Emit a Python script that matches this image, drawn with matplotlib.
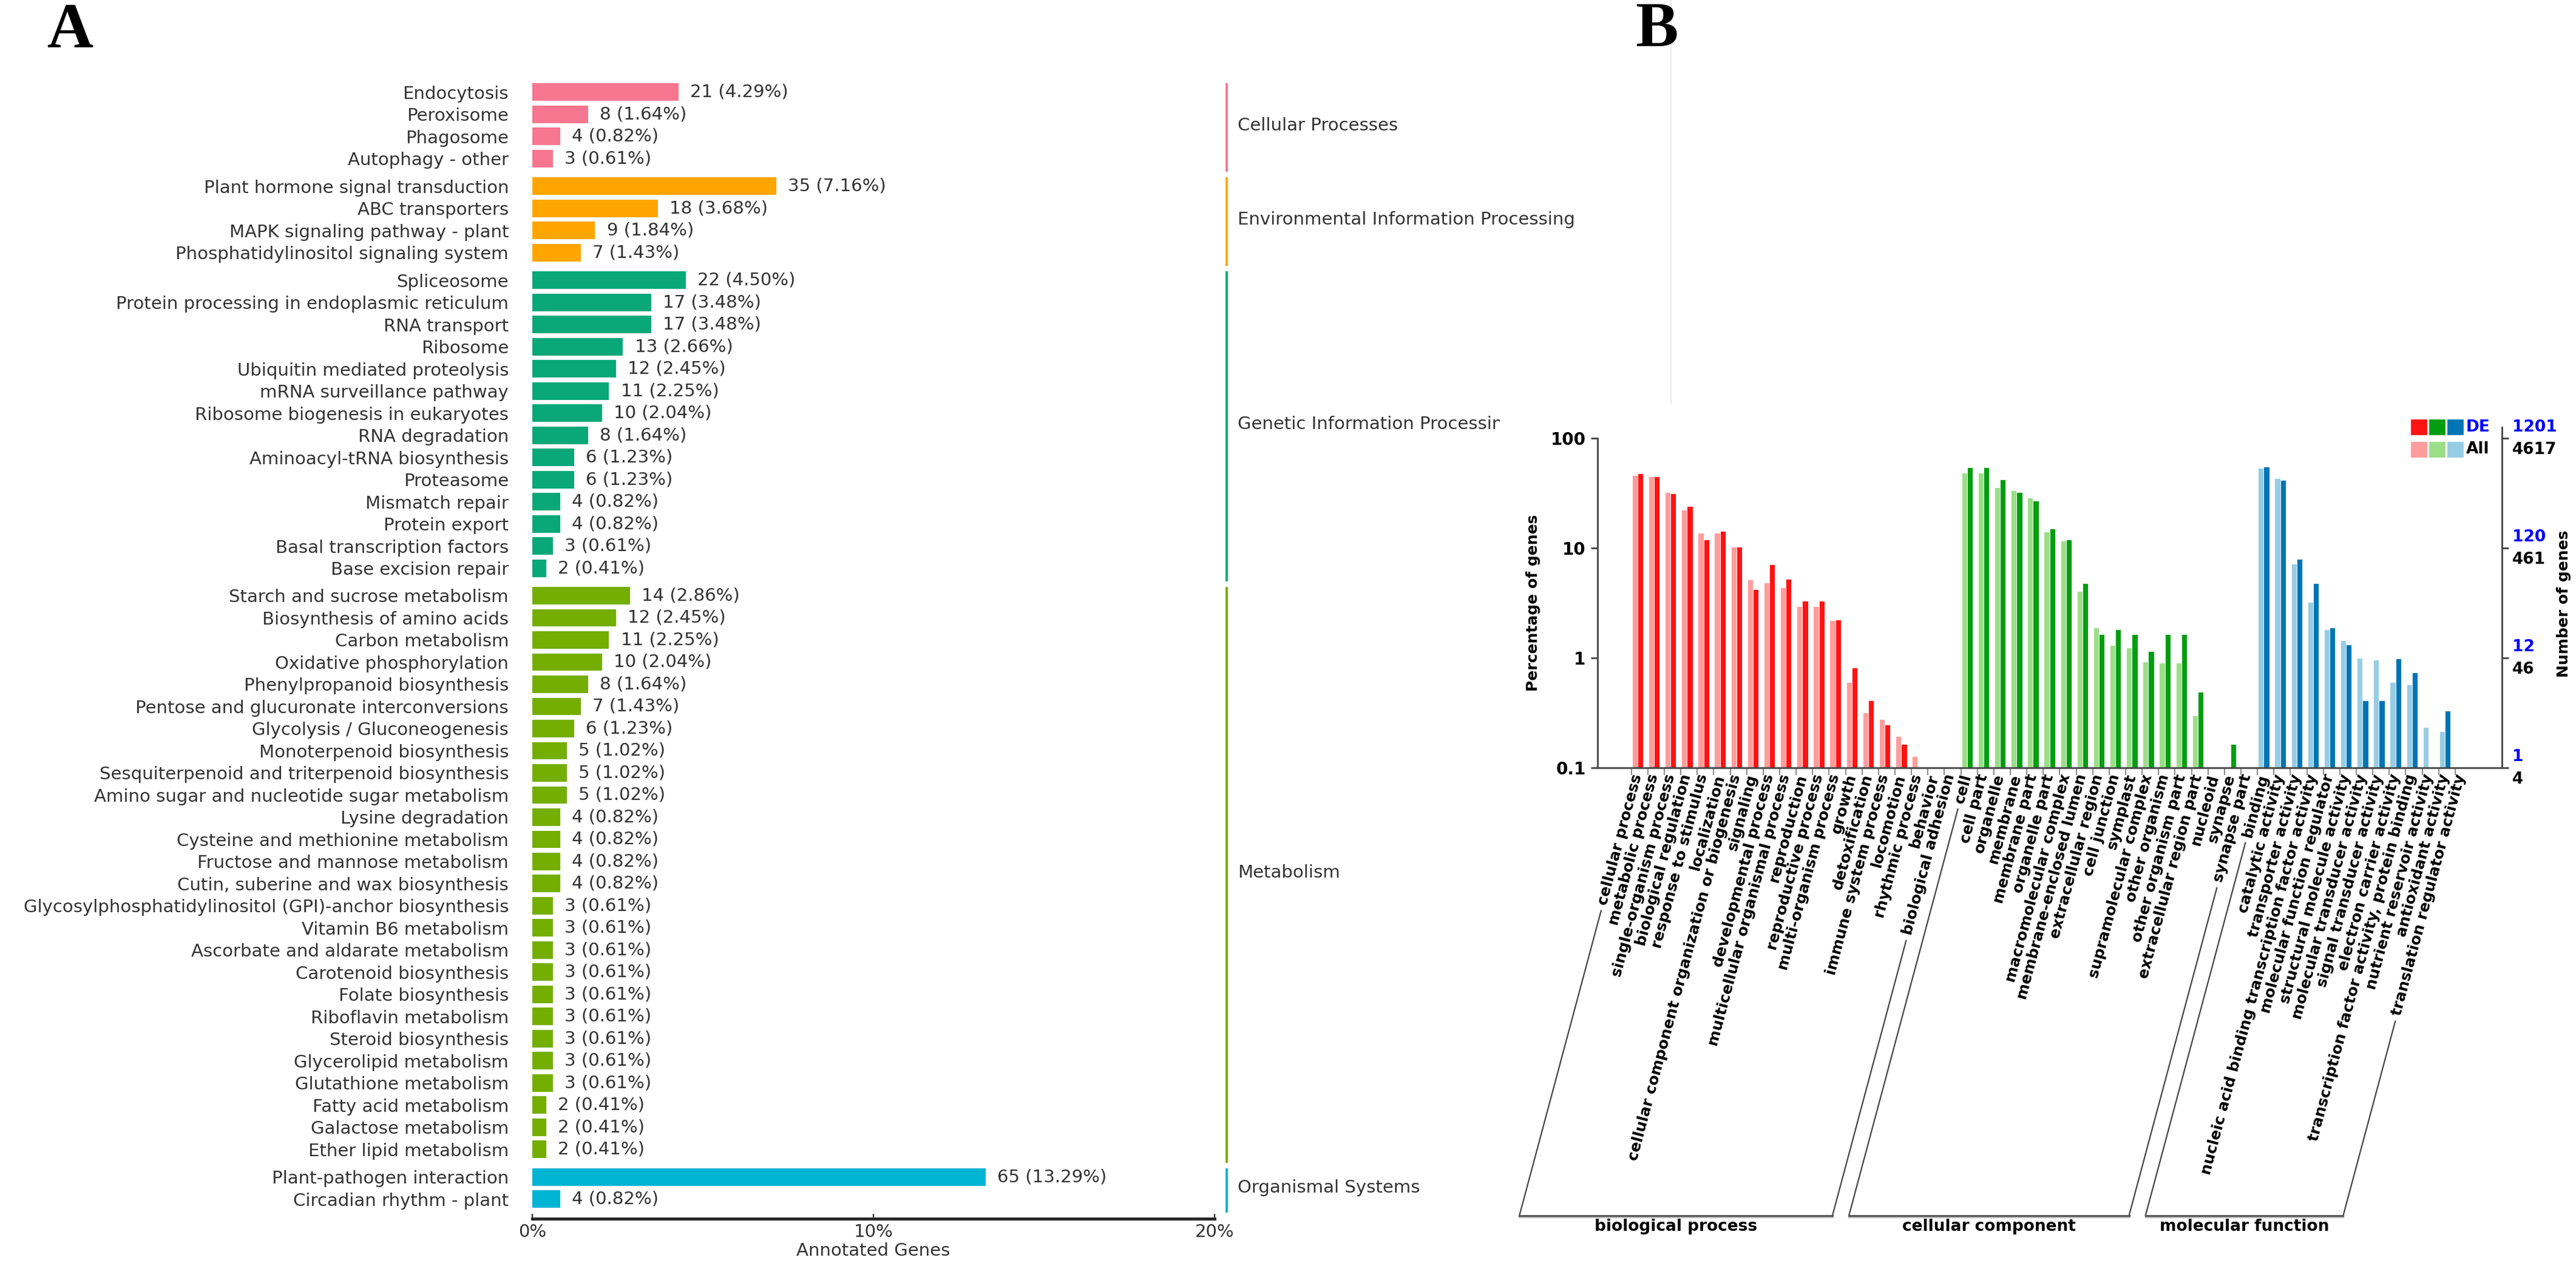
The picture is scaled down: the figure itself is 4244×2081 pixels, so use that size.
import numpy as np
import matplotlib
matplotlib.use("Agg")
import matplotlib.pyplot as plt
from matplotlib.patches import Rectangle
from matplotlib.lines import Line2D
from matplotlib.transforms import blended_transform_factory
from matplotlib.ticker import NullLocator

# ---------------- panel A data (KEGG) ----------------
kegg_group_names = ["Cellular Processes", "Environmental Information Processing",
                    "Genetic Information Processing", "Metabolism", "Organismal Systems"]
kegg_group_colors = ["#F7768F", "#FFA500", "#0AA878", "#74AE00", "#00B4D4"]

cellular_paths = ["Endocytosis", "Peroxisome", "Phagosome", "Autophagy - other"]
cellular_n = [21, 8, 4, 3]
cellular_pct = [4.29, 1.64, 0.82, 0.61]

environ_paths = ["Plant hormone signal transduction", "ABC transporters",
                 "MAPK signaling pathway - plant", "Phosphatidylinositol signaling system"]
environ_n = [35, 18, 9, 7]
environ_pct = [7.16, 3.68, 1.84, 1.43]

genetic_paths = ["Spliceosome", "Protein processing in endoplasmic reticulum", "RNA transport",
                 "Ribosome", "Ubiquitin mediated proteolysis", "mRNA surveillance pathway",
                 "Ribosome biogenesis in eukaryotes", "RNA degradation", "Aminoacyl-tRNA biosynthesis",
                 "Proteasome", "Mismatch repair", "Protein export", "Basal transcription factors",
                 "Base excision repair"]
genetic_n = [22, 17, 17, 13, 12, 11, 10, 8, 6, 6, 4, 4, 3, 2]
genetic_pct = [4.50, 3.48, 3.48, 2.66, 2.45, 2.25, 2.04, 1.64, 1.23, 1.23, 0.82, 0.82, 0.61, 0.41]

metab_paths = ["Starch and sucrose metabolism", "Biosynthesis of amino acids", "Carbon metabolism",
               "Oxidative phosphorylation", "Phenylpropanoid biosynthesis",
               "Pentose and glucuronate interconversions", "Glycolysis / Gluconeogenesis",
               "Monoterpenoid biosynthesis", "Sesquiterpenoid and triterpenoid biosynthesis",
               "Amino sugar and nucleotide sugar metabolism", "Lysine degradation",
               "Cysteine and methionine metabolism", "Fructose and mannose metabolism",
               "Cutin, suberine and wax biosynthesis",
               "Glycosylphosphatidylinositol (GPI)-anchor biosynthesis", "Vitamin B6 metabolism",
               "Ascorbate and aldarate metabolism", "Carotenoid biosynthesis", "Folate biosynthesis",
               "Riboflavin metabolism", "Steroid biosynthesis", "Glycerolipid metabolism",
               "Glutathione metabolism", "Fatty acid metabolism", "Galactose metabolism",
               "Ether lipid metabolism"]
metab_n = [14, 12, 11, 10, 8, 7, 6, 5, 5, 5, 4, 4, 4, 4, 3, 3, 3, 3, 3, 3, 3, 3, 3, 2, 2, 2]
metab_pct = [2.86, 2.45, 2.25, 2.04, 1.64, 1.43, 1.23, 1.02, 1.02, 1.02, 0.82, 0.82, 0.82, 0.82,
             0.61, 0.61, 0.61, 0.61, 0.61, 0.61, 0.61, 0.61, 0.61, 0.41, 0.41, 0.41]

organ_paths = ["Plant-pathogen interaction", "Circadian rhythm - plant"]
organ_n = [65, 4]
organ_pct = [13.29, 0.82]

# ---------------- panel B data (GO, % of genes) ----------------
bp_terms = ["cellular process", "metabolic process", "single-organism process",
            "biological regulation", "response to stimulus", "localization",
            "cellular component organization or biogenesis", "signaling",
            "developmental process", "multicellular organismal process", "reproduction",
            "reproductive process", "multi-organism process", "growth", "detoxification",
            "immune system process", "locomotion", "rhythmic process", "behavior",
            "biological adhesion"]
bp_all = [45.8, 45.1, 32.2, 22.2, 13.8, 13.8, 10.2, 5.14, 4.82, 4.39, 2.95, 2.95, 2.21,
          0.60, 0.32, 0.278, 0.193, 0.128, 0, 0]
bp_de = [47.8, 44.6, 31.5, 24.2, 11.9, 14.2, 10.2, 4.2, 7.12, 5.22, 3.31, 3.31, 2.23,
         0.82, 0.41, 0.248, 0.165, 0, 0, 0]

cc_terms = ["cell", "cell part", "organelle", "membrane", "membrane part", "organelle part",
            "macromolecular complex", "membrane-enclosed lumen", "extracellular region",
            "cell junction", "symplast", "supramolecular complex", "other organism",
            "other organism part", "extracellular region part", "nucleoid", "synapse",
            "synapse part"]
cc_all = [48.3, 48.3, 35.6, 33.6, 28.8, 14.1, 11.6, 4.05, 1.88, 1.30, 1.24, 0.925, 0.90,
          0.90, 0.298, 0, 0, 0]
cc_de = [54.2, 54.2, 42.1, 32.4, 27.0, 15.1, 12.0, 4.77, 1.65, 1.81, 1.65, 1.15, 1.65,
         1.65, 0.49, 0, 0.164, 0]

mf_terms = ["binding", "catalytic activity", "transporter activity",
            "nucleic acid binding transcription factor activity", "molecular function regulator",
            "structural molecule activity", "molecular transducer activity",
            "signal transducer activity", "electron carrier activity",
            "transcription factor activity, protein binding", "nutrient reservoir activity",
            "antioxidant activity", "translation regulator activity"]
mf_all = [53.4, 43.2, 7.16, 3.23, 1.81, 1.45, 1.00, 0.96, 0.60, 0.575, 0.235, 0.214, 0]
mf_de = [55.1, 41.7, 7.96, 4.80, 1.88, 1.32, 0.41, 0.41, 0.99, 0.738, 0, 0.331, 0]

go_group_names = ["biological process", "cellular component", "molecular function"]
go_dark = ["#FF1212", "#009E10", "#0075B5"]
go_light = ["#FF9C9C", "#9BDE88", "#97CDE4"]

de_ticks = ["1201", "120", "12", "1"]
all_ticks = ["4617", "461", "46", "4"]

# ---------------- figure ----------------
W, H, DPI = 4244, 2081, 200
fig = plt.figure(figsize=(W / DPI, H / DPI), dpi=DPI)
plt.rcParams['font.family'] = ['DejaVu Sans']


def fx(px):
    return px / W


def fy(py):
    return 1 - py / H


txt_c = "#333333"

# ======== panel A ========
axA = fig.add_axes([fx(877), fy(2008), fx(2001) - fx(877), fy(130) - fy(2008)])
groups = [(cellular_paths, cellular_n, cellular_pct), (environ_paths, environ_n, environ_pct),
          (genetic_paths, genetic_n, genetic_pct), (metab_paths, metab_n, metab_pct),
          (organ_paths, organ_n, organ_pct)]

all_y, all_lab = [], []
y = 0.0
# the panel-B picture covers the right end of the lower group names
clip_rect = Rectangle((0, 0), fx(2471), 1, transform=fig.transFigure)
for gi, (names, ns, pcts) in enumerate(groups):
    ys = []
    for name, n, p in zip(names, ns, pcts):
        ys.append(y)
        axA.barh(y, p, height=0.79, color=kegg_group_colors[gi])
        axA.text(p + 0.34, y, f"{n} ({p:.2f}%)", va="center", ha="left",
                 fontsize=10.5, color=txt_c)
        all_y.append(y)
        all_lab.append(name)
        y += 1
    axA.plot([20.36, 20.36], [ys[0] - 0.4, ys[-1] + 0.6], color=kegg_group_colors[gi],
             lw=1.4, clip_on=False, solid_capstyle="butt")
    ymid = (ys[0] + ys[-1]) / 2
    t = axA.text(20.68, ymid, kegg_group_names[gi], va="center", ha="left",
                 fontsize=10.5, color=txt_c, clip_on=False)
    if ymid > 12:
        t.set_clip_on(True)
        t.set_clip_path(clip_rect)
    y += 0.244

axA.set_xlim(0, 20)
axA.set_ylim(50.86, -0.6)
axA.set_yticks(all_y)
axA.set_yticklabels(all_lab, fontsize=10.5, color=txt_c)
axA.tick_params(axis="y", length=0, pad=14)
axA.set_xticks([0, 10, 20])
axA.set_xticklabels(["0%", "10%", "20%"], fontsize=10.5, color=txt_c)
axA.tick_params(axis="x", direction="in", length=3, color="#333333", pad=3)
axA.set_xlabel("Annotated Genes", fontsize=10.5, color=txt_c, labelpad=1)
for s in ["top", "right", "left"]:
    axA.spines[s].set_visible(False)
axA.spines["bottom"].set_color("#2a2a2a")
axA.spines["bottom"].set_linewidth(1.8)

# ======== panel B ========
axB = fig.add_axes([fx(2632), fy(1265), fx(4122) - fx(2632), fy(722) - fy(1265)])
axB.set_yscale("log")
terms = bp_terms + cc_terms + mf_terms
vals_all = [bp_all, cc_all, mf_all]
vals_de = [bp_de, cc_de, mf_de]
bw = 0.34
start = 0
group_idx = []
for gi in range(3):
    n = len(vals_all[gi])
    xs = np.arange(start, start + n)
    for x, a, d in zip(xs, vals_all[gi], vals_de[gi]):
        if a > 0:
            axB.bar(x - bw / 2, a - 0.1, bottom=0.1, width=bw, color=go_light[gi],
                    edgecolor="white", linewidth=0.3)
        if d > 0:
            axB.bar(x + bw / 2, d - 0.1, bottom=0.1, width=bw, color=go_dark[gi],
                    edgecolor="white", linewidth=0.3)
    group_idx.append((start, start + n - 1))
    start += n

axB.set_xlim(-2.43, 52.46)
axB.set_ylim(0.1, 100)
axB.yaxis.set_minor_locator(NullLocator())
axB.set_yticks([0.1, 1, 10, 100])
axB.set_yticklabels(["0.1", "1", "10", "100"], fontsize=10, fontweight="bold")
axB.tick_params(axis="y", length=4, width=1, color="#444444", direction="out", right=True, pad=3)
axB.set_xticks(np.arange(len(terms)) - 0.38)
axB.set_xticklabels([])
axB.tick_params(axis="x", length=4.3, width=0.7, color="#888888", direction="out")
axB.spines["top"].set_visible(False)
for s in ["left", "right", "bottom"]:
    axB.spines[s].set_color("#444444")
    axB.spines[s].set_linewidth(1.0)
axB.plot([1, 1], [1, 1.034], transform=axB.transAxes, color="#444444", lw=1.0, clip_on=False)
axB.set_ylabel("Percentage of genes", fontsize=9, fontweight="bold", labelpad=6)

# right axis numbers
for v, de_t, all_t in zip([100, 10, 1, 0.1], de_ticks, all_ticks):
    axB.annotate(de_t, xy=(1.0114, v), xycoords=("axes fraction", "data"),
                 xytext=(0, 6.5), textcoords="offset points", ha="left", va="center",
                 fontsize=9.5, fontweight="bold", color="blue", annotation_clip=False)
    axB.annotate(all_t, xy=(1.0114, v), xycoords=("axes fraction", "data"),
                 xytext=(0, -6.8), textcoords="offset points", ha="left", va="center",
                 fontsize=9.5, fontweight="bold", color="black", annotation_clip=False)
fig.text(fx(4224), fy(995), "Number of genes", rotation=90, ha="center", va="center",
         fontsize=9, fontweight="bold")

# legend
lx = [0.900, 0.9201, 0.9402]
for k in range(3):
    axB.add_patch(Rectangle((lx[k], 1.0125), 0.0161, 0.042, transform=axB.transAxes,
                            color=go_dark[k], clip_on=False))
    axB.add_patch(Rectangle((lx[k], 0.9445), 0.0161, 0.042, transform=axB.transAxes,
                            color=go_light[k], clip_on=False))
axB.text(0.9603, 1.034, "DE", transform=axB.transAxes, color="blue", fontsize=9.5,
         fontweight="bold", va="center", ha="left")
axB.text(0.9603, 0.966, "All", transform=axB.transAxes, color="black", fontsize=9.5,
         fontweight="bold", va="center", ha="left")

# category labels
lab_tr = blended_transform_factory(axB.transData, axB.transAxes)
lab_objs = []
for i, term in enumerate(terms):
    t = axB.text(i, -11 / 543, term, transform=lab_tr, rotation=75, rotation_mode="anchor",
                 ha="right", va="center", fontsize=9, fontweight="bold")
    lab_objs.append(t)

# group brackets under the labels
fig.canvas.draw()
r = fig.canvas.get_renderer()
ang = np.radians(75)
dvec = np.array([np.cos(ang), np.sin(ang)])
y_base = H - 2003


def label_start(t):
    w, _, _ = r.get_text_width_height_descent(t.get_text(), t.get_fontproperties(), ismath=False)
    a = t.get_transform().transform(t.get_position())
    return np.array(a) - (w + 10) * dvec


def foot(p):
    return p[0] - (p[1] - y_base) / np.tan(ang)


for gi, (i0, i1) in enumerate(group_idx):
    p0 = label_start(lab_objs[i0])
    p1 = label_start(lab_objs[i1])
    b0, b1 = foot(p0), foot(p1)
    for p, b in [(p0, b0), (p1, b1)]:
        fig.add_artist(Line2D([p[0] / W, b / W], [p[1] / H, y_base / H], color="#444444",
                              lw=0.8))
    fig.add_artist(Line2D([b0 / W, b1 / W], [(y_base - 2) / H, (y_base - 2) / H],
                          color="#bbbbbb", lw=1.2))
    fig.add_artist(Line2D([b0 / W, b1 / W], [y_base / H, y_base / H], color="#555555", lw=1.1))
    fig.text((b0 + b1) / 2 / W, fy(2021), go_group_names[gi], ha="center", va="center",
             fontsize=9.5, fontweight="bold")

# faint separator line and panel letters
fig.add_artist(Line2D([fx(2753), fx(2753)], [1, fy(665)], color="#ececec", lw=0.8))
fig.text(fx(116), fy(52), "A", ha="center", va="center", fontsize=38, fontweight="bold",
         family=["Liberation Serif", "DejaVu Serif"])
fig.text(fx(2729), fy(50), "B", ha="center", va="center", fontsize=38, fontweight="bold",
         family=["Liberation Serif", "DejaVu Serif"])

fig.savefig("out.png", dpi=DPI, facecolor="white")
